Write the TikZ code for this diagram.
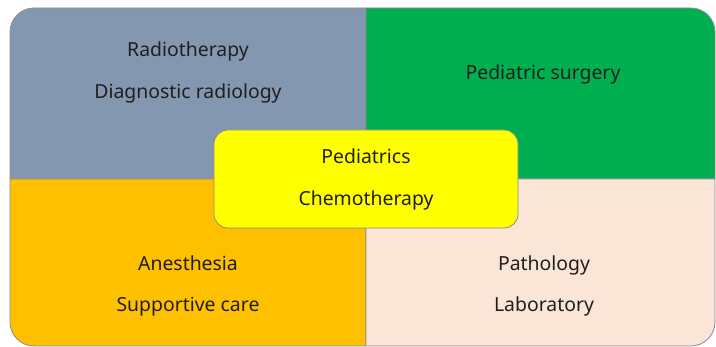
\documentclass[tikz,border=0pt]{standalone}
\usepackage{fontspec}
\setmainfont{Noto Sans}
\definecolor{qblue}{HTML}{8497B0}
\definecolor{qgreen}{HTML}{00B050}
\definecolor{qorange}{HTML}{FFC000}
\definecolor{qpeach}{HTML}{FBE5D6}
\definecolor{qyellow}{HTML}{FFFF00}
\definecolor{qedge}{HTML}{8C8C8C}
\definecolor{qtext}{HTML}{1F1F1F}
\begin{document}
\begin{tikzpicture}[x=1pt,y=1pt,
  quad/.style={draw=qedge,line width=0.8pt},
  lbl/.style={anchor=base,inner sep=0pt,text=qtext,font=\fontsize{19.4}{22}\selectfont},
  centerbox/.style={draw=qedge,line width=0.8pt,fill=qyellow,rounded corners=14pt,minimum width=304pt,minimum height=98pt,inner sep=0pt}]
\useasboundingbox (0,0) rectangle (716,347);
\def\r{24}
% quadrants
\draw[quad,fill=qblue] (366,168) -- (10,168) -- (10,339-\r) arc[start angle=180,end angle=90,radius=\r] -- (366,339) -- cycle;
\draw[quad,fill=qgreen] (366,168) -- (366,339) -- (715-\r,339) arc[start angle=90,end angle=0,radius=\r] -- (715,168) -- cycle;
\draw[quad,fill=qorange] (366,168) -- (10,168) -- (10,1+\r) arc[start angle=180,end angle=270,radius=\r] -- (366,1) -- cycle;
\draw[quad,fill=qpeach] (366,168) -- (366,1) -- (715-\r,1) arc[start angle=270,end angle=360,radius=\r] -- (715,168) -- cycle;
% center box
\node[centerbox] (center) at (366,168) {};
% labels
\node[lbl] (radio) at (188,290) {Radiotherapy};
\node[lbl] (diag) at (188,248) {Diagnostic radiology};
\node[lbl] (surg) at (543,267) {Pediatric surgery};
\node[lbl] (ped) at (366,183) {Pediatrics};
\node[lbl] (chemo) at (366,141) {Chemotherapy};
\node[lbl] (anes) at (188,76) {Anesthesia};
\node[lbl] (supp) at (188,35) {Supportive care};
\node[lbl] (path) at (544,76) {Pathology};
\node[lbl] (lab) at (544,35) {Laboratory};
\end{tikzpicture}
\end{document}
